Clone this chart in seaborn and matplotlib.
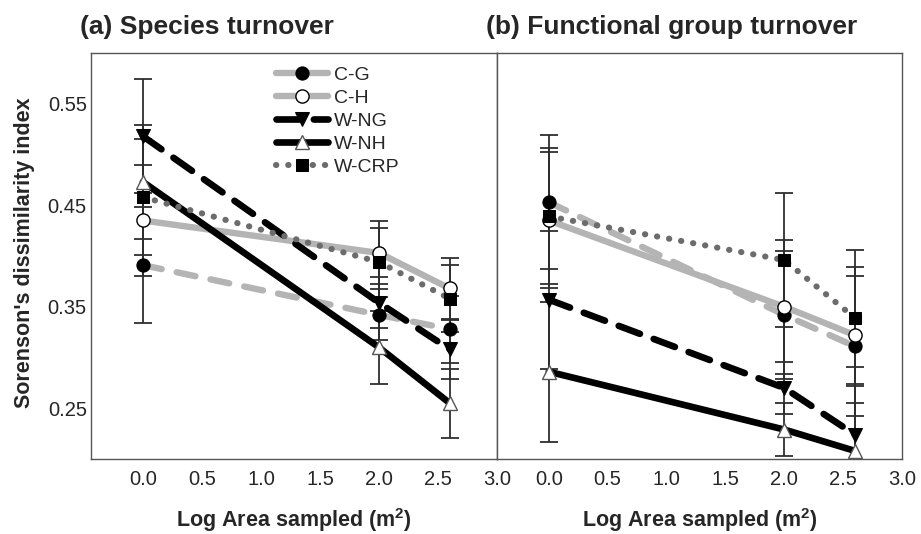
import matplotlib
matplotlib.use("Agg")
import matplotlib.pyplot as plt
import seaborn as sns
import pandas as pd
import numpy as np

# ---------------- data ----------------
log_area = [0.0, 2.0, 2.6]
series = ["C-G", "C-H", "W-NG", "W-NH", "W-CRP"]

# (a) Species turnover
cg_a = [0.391, 0.342, 0.328]
ch_a = [0.435, 0.403, 0.368]
wng_a = [0.518, 0.354, 0.308]
wnh_a = [0.473, 0.310, 0.255]
wcrp_a = [0.458, 0.394, 0.358]
cg_a_err = [0.057, 0.025, 0.033]
ch_a_err = [0.055, 0.031, 0.030]
wng_a_err = [0.056, 0.025, 0.029]
wnh_a_err = [0.056, 0.036, 0.034]
wcrp_a_err = [0.057, 0.034, 0.033]

# (b) Functional group turnover
cg_b = [0.453, 0.342, 0.311]
ch_b = [0.435, 0.350, 0.322]
wng_b = [0.357, 0.270, 0.224]
wnh_b = [0.286, 0.229, 0.208]
wcrp_b = [0.439, 0.396, 0.339]
cg_b_err = [0.066, 0.063, 0.069]
ch_b_err = [0.067, 0.066, 0.067]
wng_b_err = [0.068, 0.026, 0.050]
wnh_b_err = [0.069, 0.026, 0.083]
wcrp_b_err = [0.067, 0.066, 0.067]

panel_titles = ["(a) Species turnover", "(b) Functional group turnover"]
y_ticks = [0.25, 0.35, 0.45, 0.55]
x_ticks = [0.0, 0.5, 1.0, 1.5, 2.0, 2.5, 3.0]
ylabel = "Sorenson's dissimilarity index"
xlabel = r"Log Area sampled (m$^{\mathbf{2}}$)"

rows = []
for panel, vals, errs in [
    ("a", [cg_a, ch_a, wng_a, wnh_a, wcrp_a], [cg_a_err, ch_a_err, wng_a_err, wnh_a_err, wcrp_a_err]),
    ("b", [cg_b, ch_b, wng_b, wnh_b, wcrp_b], [cg_b_err, ch_b_err, wng_b_err, wnh_b_err, wcrp_b_err]),
]:
    for s, v, e in zip(series, vals, errs):
        for xi, vi, ei in zip(log_area, v, e):
            rows.append(dict(panel=panel, group=s, x=xi, y=vi, err=ei))
df = pd.DataFrame(rows)

# ---------------- style ----------------
sns.set_style("white")
plt.rcParams["font.family"] = ["Liberation Sans", "DejaVu Sans"]
plt.rcParams["mathtext.fontset"] = "custom"
plt.rcParams["mathtext.rm"] = "Liberation Sans"
plt.rcParams["mathtext.bf"] = "Liberation Sans:bold"

LG = "#b4b4b4"
DG = "#6c6c6c"
styles = {
    "C-G": dict(color=LG, lw=4.6, linestyle=(0, (3.0, 2.4)), dash_capstyle="round",
                marker="o", markersize=9.5, markerfacecolor="black", markeredgecolor="black"),
    "C-H": dict(color=LG, lw=4.6, linestyle="-",
                marker="o", markersize=9.5, markerfacecolor="white", markeredgecolor="black", markeredgewidth=1.0),
    "W-NG": dict(color="black", lw=4.8, linestyle=(0, (3.4, 2.2)), dash_capstyle="round",
                 marker="v", markersize=9.5, markerfacecolor="black", markeredgecolor="black"),
    "W-NH": dict(color="black", lw=4.8, linestyle="-",
                 marker="^", markersize=10.5, markerfacecolor="white", markeredgecolor="#555555", markeredgewidth=1.0),
    "W-CRP": dict(color=DG, lw=4.4, linestyle=(0, (0.05, 1.95)), dash_capstyle="round",
                  marker="s", markersize=8.5, markerfacecolor="black", markeredgecolor="black"),
}

W, H = 921, 534
fig = plt.figure(figsize=(W / 100, H / 100), dpi=100)
ax_a = fig.add_axes([91 / W, 75 / H, 406 / W, 406 / H])
ax_b = fig.add_axes([497 / W, 75 / H, 405 / W, 406 / H])

for ax, panel in [(ax_a, "a"), (ax_b, "b")]:
    sub = df[df.panel == panel]
    ax.errorbar(sub.x, sub.y, yerr=sub.err, fmt="none", ecolor="#2e2e2e",
                elinewidth=1.3, capsize=6.2, capthick=1.3, zorder=2)
    for s in series:
        d = sub[sub.group == s]
        sns.lineplot(data=d, x="x", y="y", ax=ax, errorbar=None, label=s,
                     zorder=3, legend=False, **styles[s])
    ax.set_xlim(-0.44, 3.0)
    ax.set_ylim(0.2, 0.6)
    ax.set_xticks(x_ticks)
    ax.set_xticklabels([f"{t:.1f}" for t in x_ticks])
    ax.set_xlabel("")
    ax.set_ylabel("")
    ax.tick_params(axis="x", direction="in", length=6, width=1, color="#555555",
                   labelsize=14.5, pad=8)
    for sp in ax.spines.values():
        sp.set_color("#555555")
        sp.set_linewidth(1.0)
        sp.set_visible(True)

ax_a.set_yticks(y_ticks)
ax_a.set_yticklabels([f"{t:.2f}" for t in y_ticks])
ax_a.tick_params(axis="y", direction="in", length=6, width=1, color="#555555",
                 labelsize=14.5, pad=3)
ax_b.set_yticks([])

handles = ax_a.get_lines()
leg_handles = [h for h in handles if h.get_label() in series]
ax_a.legend(handles=leg_handles, labels=series, loc="upper left",
            bbox_to_anchor=(0.455, 0.968), frameon=False, fontsize=14,
            handlelength=2.7, handletextpad=0.3, labelspacing=0.28,
            borderpad=0, borderaxespad=0, numpoints=1)

fig.text(80 / W, 1 - 34 / H, panel_titles[0], fontsize=19, fontweight="bold",
         ha="left", va="baseline")
fig.text(486 / W, 1 - 34 / H, panel_titles[1], fontsize=19, fontweight="bold",
         ha="left", va="baseline")
fig.text(25 / W, 1 - 253 / H, ylabel, fontsize=15.5, fontweight="bold",
         rotation=90, ha="center", va="center")
fig.text(294 / W, 1 - 527 / H, xlabel, fontsize=15.5, fontweight="bold",
         ha="center", va="baseline")
fig.text(700 / W, 1 - 527 / H, xlabel, fontsize=15.5, fontweight="bold",
         ha="center", va="baseline")

fig.savefig("out.png", dpi=100)
